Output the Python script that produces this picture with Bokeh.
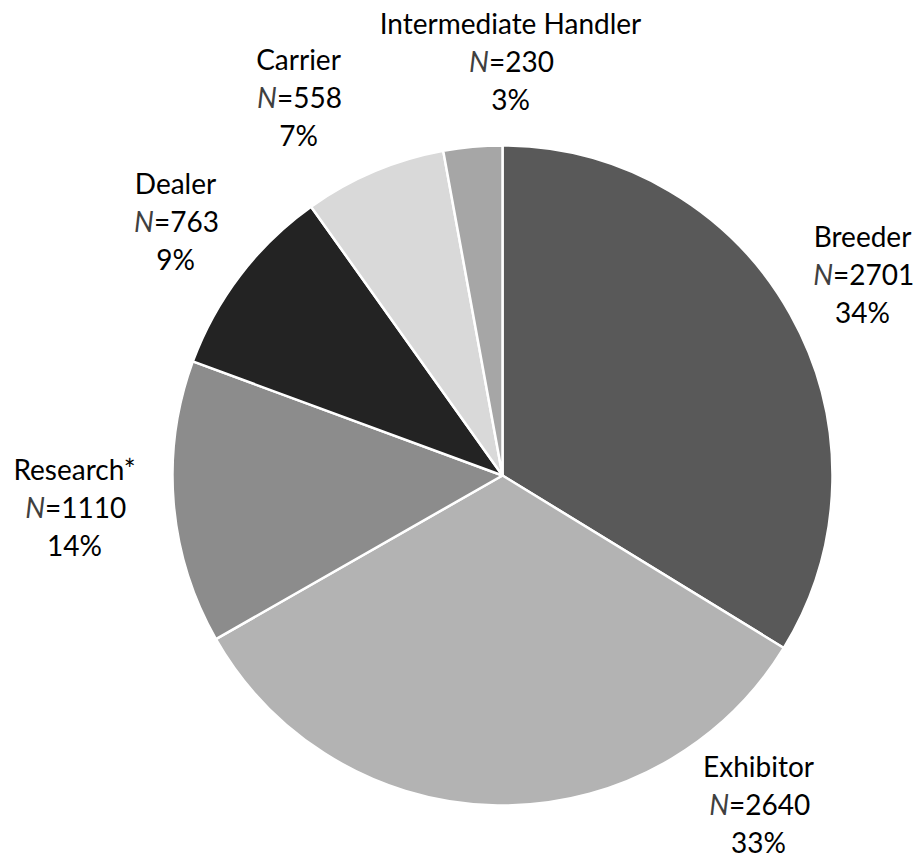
from bokeh.plotting import figure
from bokeh.models import Range1d, ColumnDataSource
from bokeh.embed import file_html
from bokeh.resources import INLINE
from bokeh.core.properties import value
import math

# ---- data ----
categories = ["Breeder", "Exhibitor", "Research*", "Dealer", "Carrier", "Intermediate Handler"]
counts = [2701, 2640, 1110, 763, 558, 230]
pct_labels = ["34%", "33%", "14%", "9%", "7%", "3%"]
colors = ["#595959", "#b3b3b3", "#8c8c8c", "#232323", "#d9d9d9", "#a6a6a6"]

# ---- layout (pixels, top-left origin) ----
W, H = 919, 860
CX, CY, R = 502, 475, 330
label_pos = {  # center x, y of first line
    "Breeder": (862, 235),
    "Exhibitor": (758, 765),
    "Research*": (74, 468),
    "Dealer": (175, 182),
    "Carrier": (298, 58),
    "Intermediate Handler": (510, 22),
}
LINE = 38
FS = 28
FONT = "Lato"

p = figure(width=W, height=H, output_backend="svg", toolbar_location=None,
           x_range=Range1d(0, W), y_range=Range1d(0, H), min_border=0)
p.axis.visible = False
p.grid.visible = False
p.outline_line_color = None
p.background_fill_color = "white"
p.border_fill_color = "white"

total = sum(counts)
starts, ends = [], []
cum = 0.0
for c in counts:
    starts.append(math.pi / 2 - cum / total * 2 * math.pi)
    cum += c
    ends.append(math.pi / 2 - cum / total * 2 * math.pi)

src = ColumnDataSource(dict(start=starts, end=ends, color=colors, cat=categories))
p.wedge(x=CX, y=H - CY, radius=R, start_angle="start", end_angle="end",
        direction="clock", fill_color="color", line_color="white", line_width=2.5,
        source=src)

# label text
name_x, name_y, pct_x, pct_y = [], [], [], []
n_x, n_y, rest_x, rest_txt = [], [], [], []
cw = 0.565 * FS
nw = 0.72 * FS
for cat, cnt, pct in zip(categories, counts, pct_labels):
    cx, cy = label_pos[cat]
    name_x.append(cx); name_y.append(H - cy)
    pct_x.append(cx); pct_y.append(H - (cy + 2 * LINE))
    rest = "=" + str(cnt)
    wtot = nw + cw * len(rest)
    split = cx - wtot / 2 + nw
    n_x.append(split); n_y.append(H - (cy + LINE))
    rest_x.append(split); rest_txt.append(rest)

common = dict(text_font=value(FONT), text_font_size=f"{FS}px", text_baseline="middle")
p.text(x=name_x, y=name_y, text=categories, text_align="center", text_color="black", **common)
p.text(x=pct_x, y=pct_y, text=pct_labels, text_align="center", text_color="black", **common)
p.text(x=n_x, y=n_y, text=["N"] * len(n_x), text_align="right", text_color="#404040",
       text_font_style="italic", **common)
p.text(x=rest_x, y=n_y, text=rest_txt, text_align="left", text_color="black", **common)

open("out.html", "w").write(file_html(p, INLINE))
